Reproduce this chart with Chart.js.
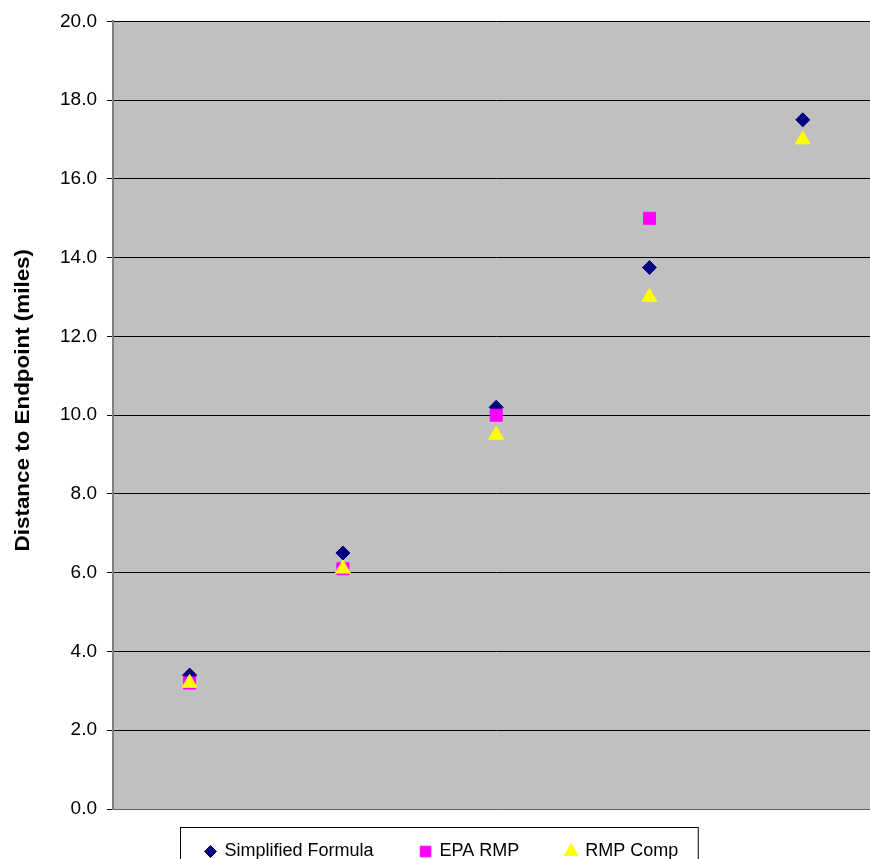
<!DOCTYPE html>
<html>
<head>
<meta charset="utf-8">
<script src="https://cdn.jsdelivr.net/npm/chart.js@4/dist/chart.umd.min.js"></script>
<style>
  html, body { margin: 0; padding: 0; background: #ffffff; overflow: hidden; }
  #wrap { position: relative; width: 889px; height: 880px; }
</style>
</head>
<body>
<div id="wrap"><canvas id="chart"></canvas></div>
<script>
// Scenario groups along the x axis (no tick labels are shown)
const categories = ['Case 1', 'Case 2', 'Case 3', 'Case 4', 'Case 5'];

// Distance to endpoint, miles
const simplifiedFormula = [3.4, 6.5, 10.2, 13.75, 17.5];
const epaRmp = [3.2, 6.1, 10.0, 15.0, null];
const rmpComp = [3.2, 6.1, 9.5, 13.0, 17.0];

const seriesNames = ['Simplified Formula', 'EPA RMP', 'RMP Comp'];
const yTickValues = [0, 2, 4, 6, 8, 10, 12, 14, 16, 18, 20];
const yTitle = 'Distance to Endpoint (miles)';

const FONT = '"Liberation Sans", Arial, Helvetica, sans-serif';

// Grey plot background
const plotBackground = {
  id: 'plotBackground',
  beforeDraw(chart) {
    const { ctx, chartArea: a } = chart;
    ctx.save();
    ctx.fillStyle = '#c0c0c0';
    ctx.fillRect(a.left, a.top, a.right - a.left, a.bottom - a.top);
    ctx.restore();
  }
};

// Vertical axis title and boxed legend below the plot
const annotations = {
  id: 'annotations',
  afterDraw(chart) {
    const { ctx, chartArea: a } = chart;
    ctx.save();

    // axis title
    ctx.translate(23, (a.top + a.bottom) / 2 - 15);
    ctx.rotate(-Math.PI / 2);
    ctx.scale(1.12, 1);
    ctx.font = 'bold 20px ' + FONT;
    ctx.fillStyle = '#000';
    ctx.textAlign = 'center';
    ctx.textBaseline = 'middle';
    ctx.fillText(yTitle, 0, 0);
    ctx.restore();

    // legend
    ctx.save();
    ctx.font = '18px ' + FONT;
    const textOffset = 14, itemGap = 52, padL = 30, padR = 20;
    const items = chart.data.datasets.map(ds => ({
      ds, w: ctx.measureText(ds.label).width
    }));
    let total = padL + padR;
    items.forEach((it, i) => {
      total += textOffset + it.w + (i < items.length - 1 ? itemGap : 0);
    });
    const boxLeft = Math.round(438.5 - total / 2) + 0.5;
    const boxTop = 827.5;
    ctx.strokeStyle = '#000';
    ctx.lineWidth = 1;
    ctx.strokeRect(boxLeft, boxTop, total, 50);
    const cy = boxTop + 24;
    let x = boxLeft + padL;
    items.forEach(it => {
      const ds = it.ds;
      ctx.fillStyle = ds.pointBackgroundColor;
      ctx.strokeStyle = ds.pointBorderColor;
      ctx.lineWidth = 1;
      Chart.helpers.drawPoint(ctx, {
        pointStyle: ds.pointStyle,
        radius: ds.legendRadius,
        rotation: 0,
        borderWidth: 1
      }, x, cy);
      ctx.fillStyle = '#000';
      ctx.textAlign = 'left';
      ctx.textBaseline = 'middle';
      ctx.fillText(ds.label, x + textOffset, cy);
      x += textOffset + it.w + itemGap;
    });
    ctx.restore();
  }
};

function series(label, data, style, color, radius, legendRadius, order) {
  return {
    label, data, order,
    showLine: false,
    pointStyle: style,
    pointRadius: radius,
    pointHoverRadius: radius,
    pointBackgroundColor: color,
    pointBorderColor: color,
    pointBorderWidth: 1,
    borderColor: color,
    backgroundColor: color,
    legendRadius
  };
}

new Chart(document.getElementById('chart'), {
  type: 'line',
  data: {
    labels: categories,
    datasets: [
      series(seriesNames[0], simplifiedFormula, 'rectRot', '#000080', 7, 6, 3),
      series(seriesNames[1], epaRmp, 'rect', '#ff00ff', 8.5, 7.5, 2),
      series(seriesNames[2], rmpComp, 'triangle', '#ffff00', 8.6, 7.8, 1)
    ]
  },
  options: {
    responsive: true,
    maintainAspectRatio: false,
    animation: false,
    layout: { padding: { top: 21, bottom: 71, left: 0, right: 0 } },
    plugins: {
      legend: { display: false },
      tooltip: { enabled: false }
    },
    scales: {
      x: {
        type: 'category',
        offset: true,
        grid: { display: false, drawTicks: false },
        border: { display: true, color: '#606060', width: 1 },
        ticks: { display: false },
        afterFit(scale) { scale.height = 0; }
      },
      y: {
        min: 0,
        max: 20,
        afterBuildTicks(scale) {
          scale.ticks = yTickValues.map(v => ({ value: v }));
        },
        grid: { color: '#000000', lineWidth: 1, tickLength: 6, drawTicks: true },
        border: { display: true, color: '#808080', width: 2 },
        ticks: {
          color: '#000',
          padding: 10,
          font: { family: FONT, size: 19 },
          callback: v => Number(v).toFixed(1)
        },
        afterFit(scale) { scale.width = 113; }
      }
    }
  },
  plugins: [plotBackground, annotations]
});
</script>
</body>
</html>
